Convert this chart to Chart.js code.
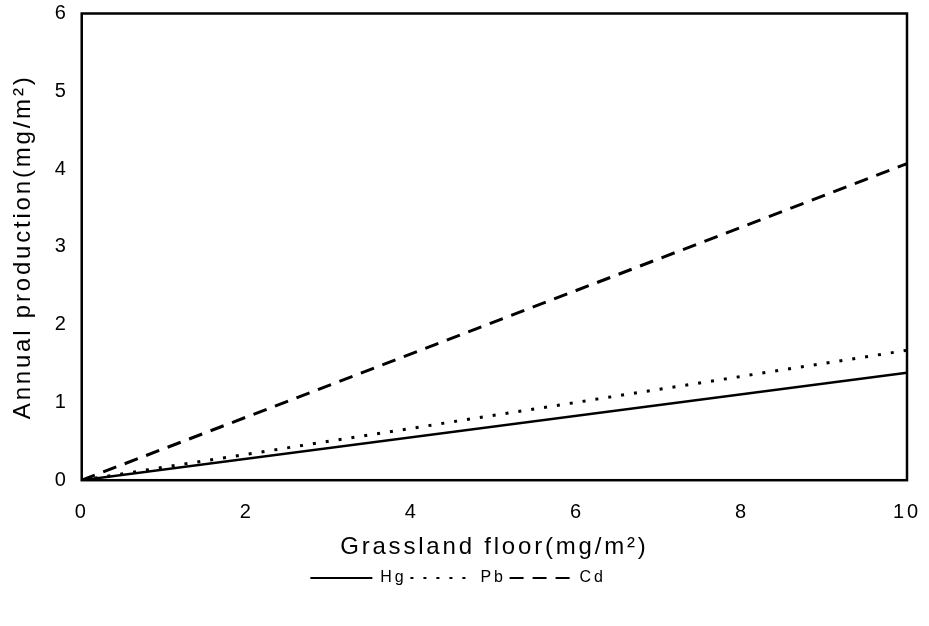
<!DOCTYPE html>
<html>
<head>
<meta charset="utf-8">
<script src="https://cdn.jsdelivr.net/npm/chart.js@4"></script>
<style>
  body { margin: 0; background: #fff; }
  #wrap { width: 929px; height: 626px; }
</style>
</head>
<body>
<div id="wrap"><canvas id="grassChart" width="929" height="626"></canvas></div>
<script>
// Datos
const floorX = [0, 10];
const hgVals = [0, 1.38];
const pbVals = [0, 1.67];
const cdVals = [0, 4.07];
const xTicks = [0, 2, 4, 6, 8, 10];
const yTicks = [0, 1, 2, 3, 4, 5, 6];

const toPts = vals => floorX.map((x, i) => ({ x: x, y: vals[i] }));
const FONT = 'Liberation Sans, Arial, sans-serif';

// espaciado de letras como en la figura escaneada
const spacingPlugin = {
  id: 'letterSpace',
  beforeLayout(chart) { chart.ctx.letterSpacing = '2.8px'; },
  beforeDraw(chart) { chart.ctx.letterSpacing = '2.8px'; }
};

// marco completo alrededor del área de trazado
const boxPlugin = {
  id: 'boxFrame',
  afterDraw(chart) {
    const { ctx, chartArea: a } = chart;
    ctx.save();
    ctx.strokeStyle = '#000';
    ctx.lineWidth = 2.5;
    ctx.strokeRect(a.left, a.top, a.right - a.left, a.bottom - a.top);
    ctx.restore();
  }
};

const ctx = document.getElementById('grassChart').getContext('2d');
new Chart(ctx, {
  type: 'line',
  data: {
    datasets: [
      {
        label: 'Hg',
        data: toPts(hgVals),
        borderColor: '#000',
        borderWidth: 2.5,
        pointRadius: 0,
        borderDash: []
      },
      {
        label: 'Pb',
        data: toPts(pbVals),
        borderColor: '#000',
        borderWidth: 3,
        pointRadius: 0,
        borderDash: [3, 10]
      },
      {
        label: 'Cd',
        data: toPts(cdVals),
        borderColor: '#000',
        borderWidth: 3,
        pointRadius: 0,
        borderDash: [14, 9]
      }
    ]
  },
  options: {
    responsive: false,
    animation: false,
    layout: { padding: { top: 0, right: 22, left: 9, bottom: 30 } },
    plugins: {
      legend: {
        position: 'bottom',
        labels: {
          color: '#000',
          font: { family: FONT, size: 16 },
          usePointStyle: true,
          pointStyle: 'line',
          pointStyleWidth: 62,
          boxWidth: 62,
          padding: 4,
          generateLabels: chart => {
            const items = Chart.defaults.plugins.legend.labels.generateLabels(chart);
            items.forEach(it => {
              const ds = chart.data.datasets[it.datasetIndex];
              it.lineDash = ds.borderDash;
              it.lineWidth = 2;
              it.strokeStyle = '#000';
            });
            return items;
          }
        }
      },
      tooltip: { enabled: false }
    },
    scales: {
      x: {
        type: 'linear',
        min: 0,
        max: 10,
        afterBuildTicks: axis => { axis.ticks = xTicks.map(v => ({ value: v })); },
        ticks: {
          color: '#000',
          font: { family: FONT, size: 20, lineHeight: 2.4 },
          padding: 8
        },
        grid: { display: false, drawTicks: false },
        border: { display: false },
        title: {
          display: true,
          text: 'Grassland floor(mg/m²)',
          color: '#000',
          font: { family: FONT, size: 24 },
          padding: { top: -11, bottom: 4 }
        }
      },
      y: {
        min: 0,
        max: 6,
        afterBuildTicks: axis => { axis.ticks = yTicks.map(v => ({ value: v })); },
        ticks: {
          color: '#000',
          font: { family: FONT, size: 20, lineHeight: 0.05 },
          padding: 13
        },
        grid: { display: false, drawTicks: false },
        border: { display: false },
        title: {
          display: true,
          text: 'Annual production(mg/m²)',
          color: '#000',
          font: { family: FONT, size: 24 },
          padding: { top: 0, bottom: 4 }
        }
      }
    }
  },
  plugins: [spacingPlugin, boxPlugin]
});
</script>
</body>
</html>
